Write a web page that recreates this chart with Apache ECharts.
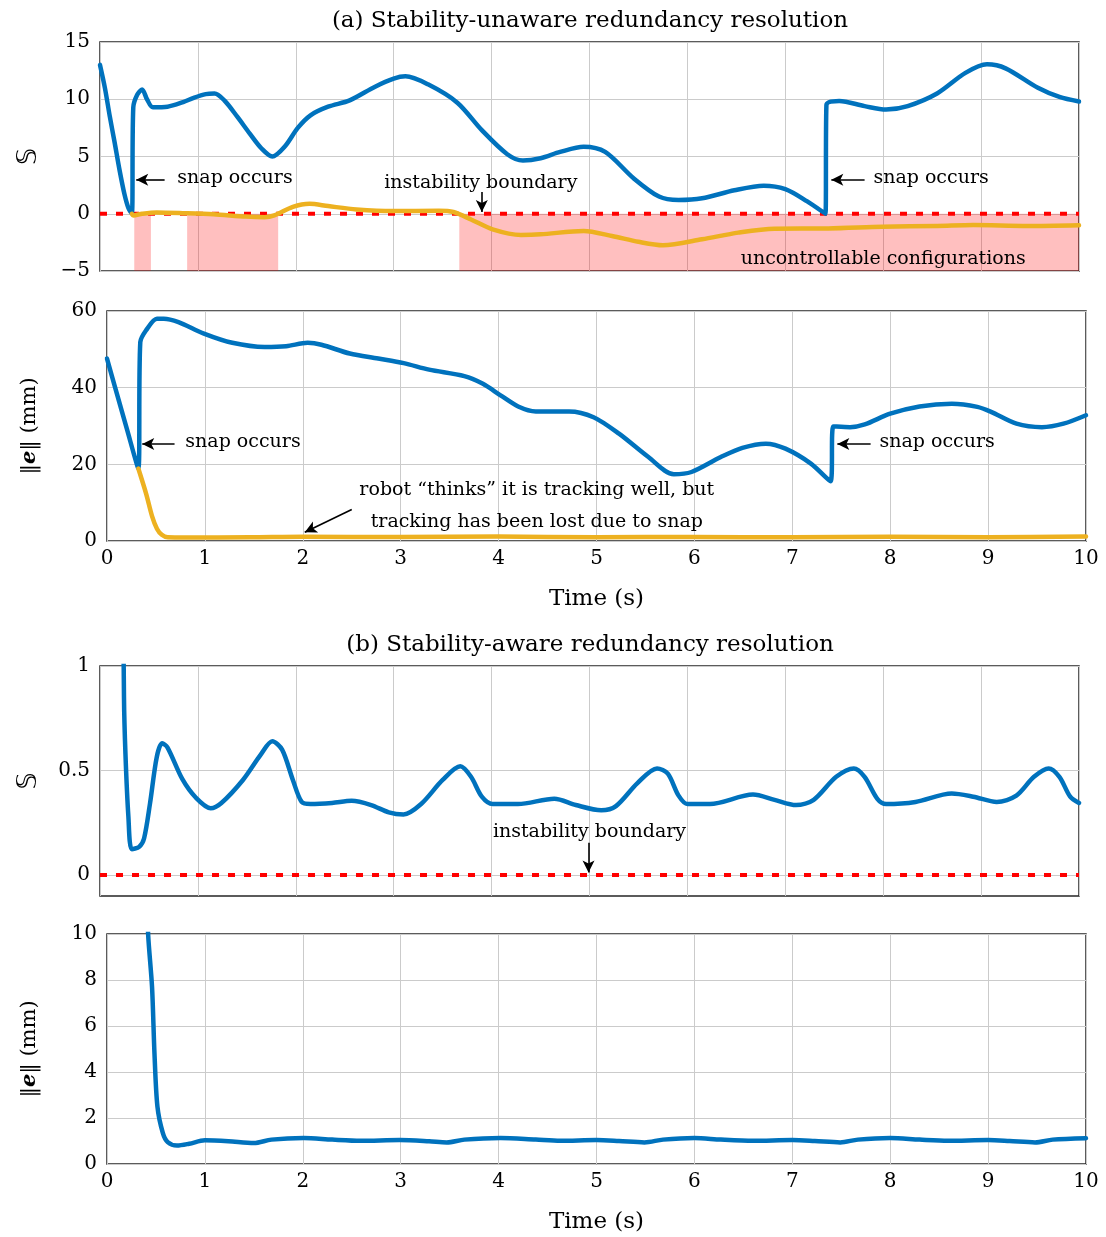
<!DOCTYPE html>
<html>
<head>
<meta charset="utf-8">
<script src="https://cdn.jsdelivr.net/npm/echarts@6/dist/echarts.min.js"></script>
<style>
  html, body { margin: 0; padding: 0; background: #ffffff; }
  #chart { width: 1106px; height: 1237px; }
</style>
</head>
<body>
<div id="chart"></div>
<script>
// ---- (a) stability-unaware: stability measure S over time [t, S]
const unawareS = [
  [0, 13.0], [0.05, 11.0], [0.1, 8.5], [0.15, 6.2], [0.2, 3.8], [0.25, 1.7], [0.29, 0.5], [0.325, 0],
  [0.34, 9.3], [0.38, 10.4], [0.43, 10.85], [0.48, 10.0], [0.54, 9.3], [0.69, 9.35], [0.85, 9.75],
  [0.95, 10.1], [1.08, 10.45], [1.17, 10.5], [1.27, 9.9], [1.4, 8.5], [1.53, 7.0], [1.65, 5.7],
  [1.76, 5.0], [1.89, 5.9], [2.02, 7.5], [2.15, 8.6], [2.33, 9.35], [2.55, 9.9], [2.81, 11.1],
  [3.0, 11.8], [3.12, 12.0], [3.35, 11.3], [3.65, 9.7], [3.9, 7.3], [4.16, 5.2], [4.32, 4.65],
  [4.5, 4.85], [4.7, 5.4], [4.94, 5.85], [5.16, 5.4], [5.45, 3.1], [5.71, 1.5], [5.91, 1.2],
  [6.15, 1.35], [6.48, 2.05], [6.78, 2.45], [7.0, 2.15], [7.22, 1.1], [7.41, 0], [7.42, 9.5],
  [7.55, 9.85], [7.81, 9.4], [8.03, 9.1], [8.25, 9.4], [8.55, 10.5], [8.84, 12.3], [9.06, 13.05],
  [9.25, 12.7], [9.58, 11.0], [9.8, 10.2], [10, 9.8]
];
// stability measure the controller believes after the first snap
const unawareSBelieved = [
  [0.325, 0], [0.34, -0.15], [0.43, 0], [0.58, 0.12], [0.87, 0.05], [1.16, -0.05], [1.49, -0.25],
  [1.68, -0.3], [1.78, -0.15], [1.97, 0.6], [2.14, 0.87], [2.33, 0.67], [2.62, 0.38], [2.99, 0.23],
  [3.46, 0.26], [3.61, 0.15], [3.79, -0.5], [4.01, -1.36], [4.3, -1.85], [4.5, -1.8], [4.94, -1.5],
  [5.23, -1.94], [5.5, -2.45], [5.75, -2.75], [6.15, -2.23], [6.52, -1.65], [6.89, -1.3],
  [7.44, -1.28], [7.99, -1.13], [8.55, -1.07], [8.92, -0.99], [9.47, -1.07], [10, -1.0]
];
// time spans of uncontrollable configurations [start, end]
const uncontrollableSpans = [[0.35, 0.52], [0.89, 1.82], [3.67, 10]];

// ---- (a) tracking error norm (mm)
const unawareErr = [
  [0, 47.6], [0.1, 38.5], [0.2, 29.5], [0.32, 18.9], [0.34, 51.9], [0.4, 55], [0.51, 58.0],
  [0.58, 58], [0.73, 57.1], [0.99, 54.1], [1.28, 51.7], [1.61, 50.6], [1.83, 50.8], [2.05, 51.7],
  [2.19, 51.2], [2.48, 48.9], [2.77, 47.6], [3.03, 46.4], [3.29, 44.7], [3.65, 43.0], [3.84, 41.0],
  [4.02, 38.0], [4.2, 35.1], [4.38, 33.8], [4.72, 33.8], [4.97, 32.3], [5.23, 28.0], [5.53, 21.9],
  [5.79, 17.4], [5.97, 18.0], [6.27, 21.9], [6.49, 24.3], [6.73, 25.4], [6.93, 24.1], [7.19, 20.2],
  [7.39, 15.6], [7.42, 29.9], [7.59, 29.7], [7.74, 30.4], [8.0, 33.2], [8.3, 35.1], [8.63, 35.8],
  [8.89, 35.0], [9.03, 33.7], [9.29, 30.6], [9.55, 29.7], [9.77, 30.6], [10, 32.8]
];
const unawareErrBelieved = [
  [0.32, 18.9], [0.4, 12.3], [0.46, 6.5], [0.51, 3.2], [0.56, 1.6], [0.62, 0.95], [0.8, 0.9],
  [1.46, 0.95], [2.0, 1.1], [3.0, 1.05], [4.0, 1.15], [5.0, 1.0], [6.0, 1.05], [7.0, 0.95],
  [8.0, 1.1], [9.0, 1.0], [10, 1.2]
];

// ---- (b) stability-aware: stability measure S
const awareS = [
  [0, 13], [0.1, 8], [0.2, 3.2], [0.245, 0.85], [0.26, 0.58], [0.29, 0.28], [0.325, 0.124],
  [0.4, 0.135], [0.45, 0.175], [0.51, 0.34], [0.58, 0.565], [0.635, 0.63], [0.69, 0.61],
  [0.84, 0.46], [0.98, 0.37], [1.13, 0.32], [1.24, 0.345], [1.46, 0.455], [1.64, 0.575],
  [1.76, 0.64], [1.86, 0.6], [1.97, 0.455], [2.06, 0.35], [2.15, 0.34], [2.37, 0.345],
  [2.57, 0.355], [2.77, 0.335], [2.95, 0.3], [3.1, 0.29], [3.28, 0.34], [3.5, 0.455],
  [3.68, 0.52], [3.79, 0.47], [3.9, 0.375], [4.01, 0.34], [4.27, 0.34], [4.64, 0.365],
  [4.86, 0.335], [5.12, 0.31], [5.27, 0.33], [5.49, 0.44], [5.69, 0.51], [5.8, 0.485],
  [5.91, 0.38], [6.0, 0.34], [6.23, 0.34], [6.67, 0.385], [6.89, 0.36], [7.11, 0.335],
  [7.29, 0.36], [7.52, 0.47], [7.7, 0.51], [7.81, 0.47], [7.94, 0.365], [8.03, 0.34],
  [8.33, 0.35], [8.7, 0.39], [8.92, 0.375], [9.16, 0.35], [9.36, 0.38], [9.54, 0.47],
  [9.69, 0.51], [9.8, 0.47], [9.91, 0.375], [10, 0.345]
];
// ---- (b) tracking error norm (mm)
const awareErr = [
  [0, 47], [0.2, 30], [0.35, 17], [0.42, 10], [0.46, 7.7], [0.485, 4.8], [0.515, 2.5],
  [0.57, 1.35], [0.62, 0.95], [0.715, 0.8], [0.84, 0.88], [1.0, 1.03], [1.24, 0.99], [1.5, 0.91],
  [1.68, 1.06], [2.01, 1.13], [2.3, 1.06], [2.59, 1.01], [2.99, 1.04], [3.29, 0.99], [3.47, 0.94],
  [3.65, 1.06], [4.02, 1.13], [4.38, 1.06], [4.63, 1.01], [5.0, 1.04], [5.23, 1.0], [5.49, 0.94],
  [5.68, 1.06], [6.0, 1.13], [6.27, 1.06], [6.6, 1.01], [7.0, 1.04], [7.23, 1.0], [7.49, 0.94],
  [7.67, 1.06], [8.0, 1.13], [8.3, 1.06], [8.59, 1.01], [9.0, 1.04], [9.22, 1.0], [9.48, 0.94],
  [9.66, 1.06], [10, 1.12]
];

// instability boundary S = 0 across the time range
const boundary = [[0, 0], [10, 0]];
const awareSTicks = [0, 0.5, 1];

const titles = ['(a) Stability-unaware redundancy resolution', '(b) Stability-aware redundancy resolution'];
const snapText = 'snap occurs';
const boundaryText = 'instability boundary';
const uncontrollableText = 'uncontrollable configurations';
const lostText = ['robot \u201cthinks\u201d it is tracking well, but', 'tracking has been lost due to snap'];

const BLUE = '#0072BD';
const YELLOW = '#EDB120';
const SERIF = '"DejaVu Serif", "Liberation Serif", serif';
const GRID_LINE = '#cbcbcb';

const chart = echarts.init(document.getElementById('chart'), null, { renderer: 'canvas' });

function xAxis(gridIndex, labelled) {
  return {
    type: 'value', gridIndex, min: 0, max: 10, interval: 1,
    axisLine: { show: false }, axisTick: { show: false },
    axisLabel: { show: labelled, fontFamily: SERIF, fontSize: 20, color: '#000', margin: 8 },
    splitLine: { show: true, lineStyle: { color: GRID_LINE, width: 1 } },
    name: labelled ? 'Time (s)' : '', nameLocation: 'middle', nameGap: 47,
    nameTextStyle: { fontFamily: SERIF, fontSize: 23, color: '#000' }
  };
}
function yAxis(gridIndex, min, max, interval, name, gap, extra) {
  return Object.assign({
    type: 'value', gridIndex, min, max, interval,
    axisLine: { show: false }, axisTick: { show: false },
    axisLabel: {
      fontFamily: SERIF, fontSize: 20, color: '#000', margin: 10,
      formatter: v => String(v).replace('-', '\u2212')
    },
    splitLine: { show: true, lineStyle: { color: GRID_LINE, width: 1 } },
    name, nameLocation: 'middle', nameGap: gap, nameRotate: 90,
    nameTextStyle: {
      fontFamily: SERIF, fontSize: 21, color: '#000',
      rich: {
        n: { fontFamily: SERIF, fontSize: 21, color: '#000' },
        b: { fontFamily: SERIF, fontSize: 21, color: '#000', fontWeight: 'bold', fontStyle: 'italic' },
        s: { fontFamily: '"DejaVu Sans", "Noto Sans", sans-serif', fontSize: 27, color: '#000' }
      }
    }
  }, extra || {});
}

const gridBox = { show: true, borderColor: '#262626', borderWidth: 1.5, backgroundColor: 'transparent' };

function curve(xi, data, color, z) {
  return {
    type: 'line', xAxisIndex: xi, yAxisIndex: xi, data, showSymbol: false, symbol: 'none',
    smooth: 0.3, clip: true, z,
    lineStyle: { color, width: 4.5, cap: 'round', join: 'round' }, silent: true
  };
}

const arrowStyle = { color: '#000', width: 1.6, type: 'solid' };
function arrows(list) {
  return {
    silent: true, symbol: ['none', 'arrow'], symbolSize: [9, 12], precision: 4,
    lineStyle: arrowStyle, label: { show: false },
    data: list.map(a => [{ coord: a[0] }, { coord: a[1] }])
  };
}
function texts(list) {
  return {
    silent: true, symbol: 'circle', symbolSize: 1, itemStyle: { color: 'rgba(0,0,0,0)' },
    data: list.map(t => ({
      coord: t.at, value: 0,
      label: {
        show: true, position: 'inside', formatter: t.text, align: t.align || 'left',
        verticalAlign: 'middle', fontFamily: SERIF, fontSize: 19, color: '#000'
      }
    }))
  };
}

function boundarySeries(xi, extra) {
  return Object.assign({
    type: 'line', xAxisIndex: xi, yAxisIndex: xi, data: boundary, showSymbol: false, symbol: 'none',
    z: 3, silent: true,
    lineStyle: { color: '#ff0000', width: 4, type: [7, 9], cap: 'butt' }
  }, extra || {});
}

const option = {
  animation: false,
  backgroundColor: '#ffffff',
  grid: [
    Object.assign({ left: 100, top: 42, width: 979, height: 229 }, gridBox),
    Object.assign({ left: 107, top: 311, width: 979, height: 230 }, gridBox),
    Object.assign({ left: 100, top: 666, width: 979, height: 230 }, gridBox),
    Object.assign({ left: 107, top: 934, width: 979, height: 230 }, gridBox)
  ],
  xAxis: [xAxis(0, false), xAxis(1, true), xAxis(2, false), xAxis(3, true)],
  yAxis: [
    yAxis(0, -5, 15, 5, '{s|\ud835\udd4a}', 58),
    yAxis(1, 0, 60, 20, '{n|\u2016}{b|e}{n|\u2016 (mm)}', 67),
    yAxis(2, -0.1, 1, null, '{s|\ud835\udd4a}', 58, {
      axisLabel: { customValues: awareSTicks, fontFamily: SERIF, fontSize: 20, color: '#000', margin: 10 },
      axisTick: { show: false, customValues: awareSTicks }
    }),
    yAxis(3, 0, 10, 2, '{n|\u2016}{b|e}{n|\u2016 (mm)}', 67)
  ],
  graphic: [
    { type: 'text', x: 590, y: 21, style: { text: titles[0], align: 'center', verticalAlign: 'middle', font: '23px ' + SERIF, fill: '#000' } },
    { type: 'text', x: 590, y: 645, style: { text: titles[1], align: 'center', verticalAlign: 'middle', font: '23px ' + SERIF, fill: '#000' } }
  ],
  series: [
    // (a) top: S with uncontrollable spans and the boundary
    boundarySeries(0, {
      markArea: {
        silent: true, itemStyle: { color: 'rgba(255,0,0,0.25)' },
        data: uncontrollableSpans.map(s => [{ xAxis: s[0], yAxis: -5 }, { xAxis: s[1], yAxis: 0 }])
      },
      markLine: arrows([
        [[0.66, 2.96], [0.37, 2.96]],
        [[7.81, 2.96], [7.47, 2.96]],
        [[3.9, 1.9], [3.9, 0.15]]
      ]),
      markPoint: texts([
        { at: [0.79, 3.1], text: snapText },
        { at: [7.9, 3.1], text: snapText },
        { at: [3.89, 2.7], text: boundaryText, align: 'center' },
        { at: [8.0, -4.0], text: uncontrollableText, align: 'center' }
      ])
    }),
    curve(0, unawareS, BLUE, 4),
    curve(0, unawareSBelieved, YELLOW, 5),

    // (a) bottom: tracking error
    Object.assign(curve(1, unawareErr, BLUE, 4), {
      markLine: arrows([
        [[0.69, 25.3], [0.36, 25.3]],
        [[7.8, 25.3], [7.46, 25.3]],
        [[2.5, 8.2], [2.02, 2.3]]
      ]),
      markPoint: texts([
        { at: [0.8, 25.8], text: snapText },
        { at: [7.89, 25.8], text: snapText },
        { at: [4.39, 13.3], text: lostText[0], align: 'center' },
        { at: [4.39, 5.0], text: lostText[1], align: 'center' }
      ])
    }),
    curve(1, unawareErrBelieved, YELLOW, 5),

    // (b) top: S with the boundary
    boundarySeries(2, {
      markLine: arrows([[[4.99, 0.155], [4.99, 0.012]]]),
      markPoint: texts([{ at: [5.0, 0.206], text: boundaryText, align: 'center' }])
    }),
    curve(2, awareS, BLUE, 4),

    // (b) bottom: tracking error
    curve(3, awareErr, BLUE, 4)
  ]
};

chart.setOption(option);
</script>
</body>
</html>
